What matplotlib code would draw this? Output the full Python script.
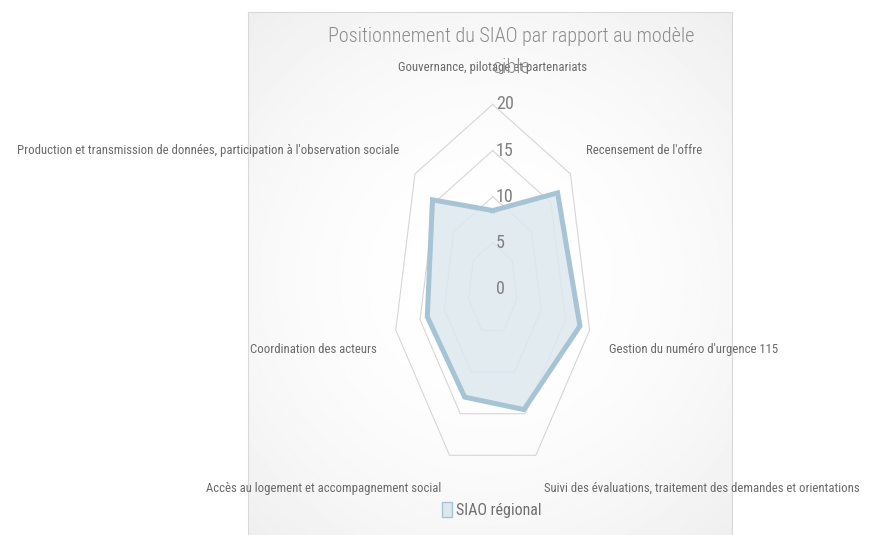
import numpy as np
import matplotlib
matplotlib.use("Agg")
import matplotlib.pyplot as plt
from matplotlib.patches import Patch

categories = [
    "Gouvernance, pilotage et partenariats",
    "Recensement de l'offre",
    "Gestion du numéro d'urgence 115",
    "Suivi des évaluations, traitement des demandes et orientations",
    "Accès au logement et accompagnement social",
    "Coordination des acteurs",
    "Production et transmission de données, participation à l'observation sociale",
]
siao_regional = [8.5, 16.7, 18.0, 14.5, 13.0, 13.5, 15.5]
ring_values = [5, 10, 15, 20]
tick_labels = ["0", "5", "10", "15", "20"]
series_name = "SIAO régional"
title = "Positionnement du SIAO par rapport au modèle\ncible"

NARROW = ["Roboto Condensed", "Liberation Sans Narrow", "Lato", "DejaVu Sans"]
LINE_COLOR = "#a6c4d4"
FILL_COLOR = "#dde8ee"
GRID_COLOR = "#d6d6d6"
TEXT_COLOR = "#6a6a6a"

W, H = 869, 535
fig = plt.figure(figsize=(W / 100, H / 100), dpi=100)

# chart area: box with soft radial gradient
box_l, box_r, box_t = 248, 732, 12
ax_bg = fig.add_axes([box_l / W, -0.02, (box_r - box_l) / W, (H - box_t) / H + 0.02])
yy, xx = np.mgrid[-1:1:300j, -1:1:300j]
dist = np.sqrt(xx ** 2 + (yy * 1.1) ** 2)
grad = 1 - 0.03 * dist ** 2
ax_bg.imshow(grad, cmap="gray", vmin=0, vmax=1, aspect="auto", extent=[0, 1, 0, 1])
ax_bg.set_xticks([])
ax_bg.set_yticks([])
for s in ax_bg.spines.values():
    s.set_color("#d9d9d9")
    s.set_linewidth(0.8)

# radar drawn on a cartesian axes (the chart is stretched vertically)
cx, cy = 492.7, 289.0
sx, sy = 4.97, 9.23  # px per unit
ax = fig.add_axes([0, 0, 1, 1])
ax.set_xlim(-cx / sx, (W - cx) / sx)
ax.set_ylim(-(H - cy) / sy, cy / sy)
ax.axis("off")
ax.patch.set_alpha(0)

n = len(categories)
angles = np.pi / 2 - 2 * np.pi * np.arange(n) / n
cosa, sina = np.cos(angles), np.sin(angles)

for r in ring_values:
    ax.plot(np.append(r * cosa, r * cosa[0]), np.append(r * sina, r * sina[0]),
            color=GRID_COLOR, lw=0.8, zorder=1)

vals = np.array(siao_regional)
px = np.append(vals * cosa, vals[0] * cosa[0])
py = np.append(vals * sina, vals[0] * sina[0])
ax.fill(px, py, color=FILL_COLOR, alpha=0.85, zorder=2, lw=0)
ax.plot(px, py, color=LINE_COLOR, lw=3.6, solid_joinstyle="miter", zorder=3)

for lab, v in zip(tick_labels, [0] + ring_values):
    ax.text(0.6, v, lab, ha="left", va="center", fontsize=13,
            family=NARROW, color="#808080", zorder=4)

lab_r = 24
for name, c, s in zip(categories, cosa, sina):
    ha = "left" if c > 0.1 else ("right" if c < -0.1 else "center")
    if abs(s) < 0.3:
        va, dy = "top", -0.5
    else:
        va, dy = "center", 0
    ax.text(lab_r * c, lab_r * s + dy, name, ha=ha, va=va, fontsize=9.2,
            family=NARROW, color=TEXT_COLOR, zorder=4)

fig.text(511 / W, 1 - 52 / H, title, ha="center", va="center", fontsize=14.5,
         family=NARROW, fontweight="light", color="#8c8c8c", linespacing=1.85)

handle = Patch(facecolor=FILL_COLOR, edgecolor=LINE_COLOR, lw=1)
fig.legend([handle], [series_name], loc="center", bbox_to_anchor=(492 / W, 1 - 510 / H),
           frameon=False, handlelength=0.6, handleheight=1.1, handletextpad=0.3,
           prop={"family": NARROW, "size": 11.5}, labelcolor="#707070")

fig.savefig("out.png", dpi=100)
